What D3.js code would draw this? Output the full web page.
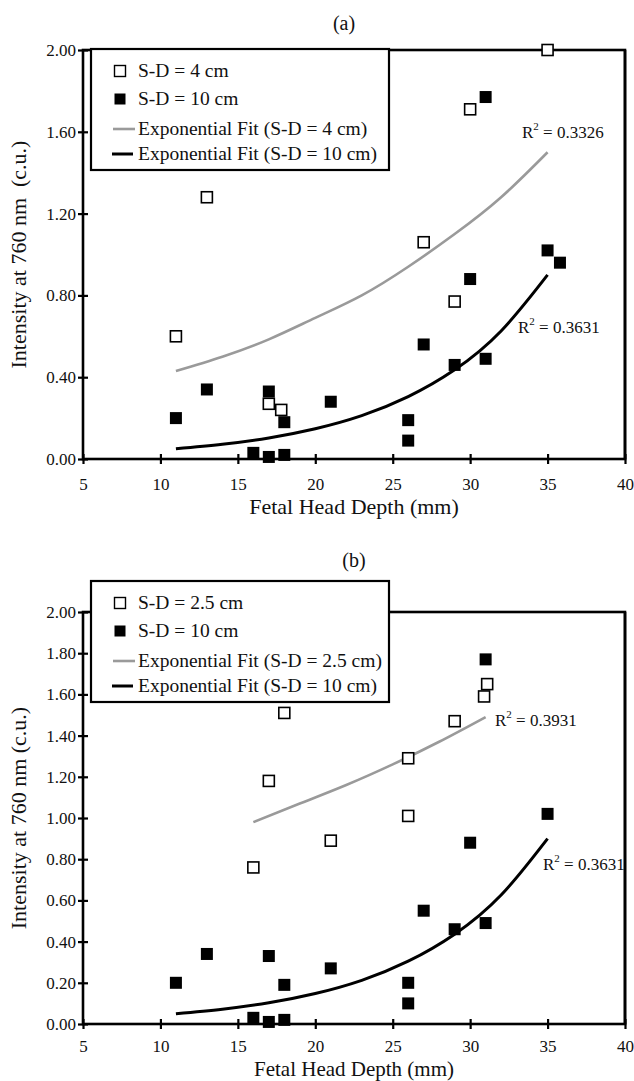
<!DOCTYPE html>
<html>
<head>
<meta charset="utf-8">
<script src="https://cdn.jsdelivr.net/npm/d3@7"></script>
<style>
  body { margin: 0; background: #fff; }
  svg text { font-family: "Liberation Serif", "Times New Roman", serif; fill: #111; }
</style>
</head>
<body>
<svg id="chart" width="634" height="1081" font-family="Liberation Serif, serif"></svg>
<script>
// tick values
const depthTicks = [5, 10, 15, 20, 25, 30, 35, 40]
const intensityTicksA = [0, 0.4, 0.8, 1.2, 1.6, 2.0]
const intensityTicksB = [0, 0.2, 0.4, 0.6, 0.8, 1.0, 1.2, 1.4, 1.6, 1.8, 2.0]

// panel (a): source-detector 4 cm vs 10 cm
const sd4cm = [
  [11, 0.60], [13, 1.28], [17, 0.27], [17.8, 0.24], [27, 1.06], [29, 0.77], [30, 1.71], [35, 2.00]
]
const sd10cmA = [
  [11, 0.20], [13, 0.34], [16, 0.03], [17, 0.33], [17, 0.01], [18, 0.18], [18, 0.02], [21, 0.28],
  [26, 0.19], [26, 0.09], [27, 0.56], [29, 0.46], [30, 0.88], [31, 0.49], [31, 1.77], [35, 1.02],
  [35.8, 0.96]
]
// panel (b): source-detector 2.5 cm vs 10 cm
const sd25cm = [
  [16, 0.76], [17, 1.18], [18, 1.51], [21, 0.89], [26, 1.29], [26, 1.01], [29, 1.47], [30.9, 1.59],
  [31.1, 1.65]
]
const sd10cmB = [
  [11, 0.20], [13, 0.34], [16, 0.03], [17, 0.33], [17, 0.01], [18, 0.19], [18, 0.02], [21, 0.27],
  [26, 0.20], [26, 0.10], [27, 0.55], [29, 0.46], [30, 0.88], [31, 0.49], [31, 1.77], [35, 1.02]
]

// fitted curves
const fit4cm = [
  [11, 0.43], [14, 0.50], [17, 0.585], [20, 0.69], [23, 0.80], [26, 0.94], [29, 1.10], [32, 1.28], [35, 1.50]
]
const fit10cm = [
  [11, 0.05], [14, 0.072], [17, 0.103], [20, 0.148], [23, 0.212], [26, 0.305], [29, 0.436], [32, 0.626], [35, 0.90]
]
const fit25cm = [[16, 0.98], [19, 1.07], [22, 1.16], [25, 1.26], [28, 1.37], [31, 1.49]]

const legendA = ['S-D = 4 cm', 'S-D = 10 cm', 'Exponential Fit (S-D = 4 cm)', 'Exponential Fit (S-D = 10 cm)']
const legendB = ['S-D = 2.5 cm', 'S-D = 10 cm', 'Exponential Fit (S-D = 2.5 cm)', 'Exponential Fit (S-D = 10 cm)']
const rSquaredA = ['0.3326', '0.3631']
const rSquaredB = ['0.3931', '0.3631']

const svg = d3.select('#chart')
const plotLeft = 83
const plotRight = 625
const markerSize = 11
const serif = '"Liberation Serif", "Times New Roman", serif'

const xScale = d3.scaleLinear().domain([5, 40]).range([plotLeft, plotRight])

const panels = [
  {
    title: '(a)', titleX: 344, titleY: 30, top: 50, bottom: 459,
    xTickPad: 14, xLabelY: 514, xLabelSize: 22,
    yTicks: intensityTicksA, open: sd4cm, filled: sd10cmA, openFit: fit4cm,
    legend: legendA, legendTop: 49, rSquared: rSquaredA,
    rPos: [[522, 138], [518, 333]], yLabel: 'Intensity at 760 nm\u00a0\u00a0(c.u.)'
  },
  {
    title: '(b)', titleX: 354, titleY: 567, top: 612, bottom: 1024,
    xTickPad: 11, xLabelY: 1076, xLabelSize: 21,
    yTicks: intensityTicksB, open: sd25cm, filled: sd10cmB, openFit: fit25cm,
    legend: legendB, legendTop: 581, rSquared: rSquaredB,
    rPos: [[495, 726], [543, 870]], yLabel: 'Intensity at 760 nm (c.u.)'
  }
]

const drawPanel = p => {
  const yScale = d3.scaleLinear().domain([0, 2]).range([p.bottom, p.top])
  const g = svg.append('g')

  g.append('text')
    .attr('x', p.titleX)
    .attr('y', p.titleY)
    .attr('text-anchor', 'middle')
    .attr('font-size', 20)
    .text(p.title)

  // frame
  g.append('rect')
    .attr('x', plotLeft)
    .attr('y', p.top)
    .attr('width', plotRight - plotLeft)
    .attr('height', p.bottom - p.top)
    .attr('fill', 'none')
    .attr('stroke', '#000')
    .attr('stroke-width', 2.6)

  const xAxis = g
    .append('g')
    .attr('transform', `translate(0,${p.bottom})`)
    .call(d3.axisBottom(xScale).tickValues(depthTicks).tickSize(5).tickPadding(p.xTickPad))
  xAxis.attr('font-family', serif)
  xAxis.select('.domain').remove()
  xAxis.selectAll('line').attr('y1', -5).attr('stroke-width', 2.2).attr('stroke', '#000')
  xAxis.selectAll('text').attr('font-size', 17)

  const yAxis = g
    .append('g')
    .attr('transform', `translate(${plotLeft},0)`)
    .call(d3.axisLeft(yScale).tickValues(p.yTicks).tickFormat(d3.format('.2f')).tickSize(5).tickPadding(2))
  yAxis.attr('font-family', serif)
  yAxis.select('.domain').remove()
  yAxis.selectAll('line').attr('x1', 5).attr('stroke-width', 2.2).attr('stroke', '#000')
  yAxis.selectAll('text').attr('font-size', 17)

  g.append('text')
    .attr('transform', `translate(26,${(p.top + p.bottom) / 2}) rotate(-90)`)
    .attr('text-anchor', 'middle')
    .attr('font-size', 22)
    .style('white-space', 'pre')
    .text(p.yLabel)

  g.append('text')
    .attr('x', (plotLeft + plotRight) / 2)
    .attr('y', p.xLabelY)
    .attr('text-anchor', 'middle')
    .attr('font-size', p.xLabelSize)
    .text('Fetal Head Depth (mm)')

  const line = d3
    .line()
    .x(d => xScale(d[0]))
    .y(d => yScale(d[1]))
    .curve(d3.curveNatural)

  g.append('path')
    .attr('d', line(p.openFit))
    .attr('fill', 'none')
    .attr('stroke', '#9a9a9a')
    .attr('stroke-width', 2.6)

  g.append('path')
    .attr('d', line(fit10cm))
    .attr('fill', 'none')
    .attr('stroke', '#000')
    .attr('stroke-width', 3)

  g.selectAll('rect.filled')
    .data(p.filled)
    .join('rect')
    .attr('class', 'filled')
    .attr('x', d => xScale(d[0]) - markerSize / 2 - 0.5)
    .attr('y', d => yScale(d[1]) - markerSize / 2 - 0.5)
    .attr('width', markerSize + 1)
    .attr('height', markerSize + 1)
    .attr('fill', '#000')

  g.selectAll('rect.open')
    .data(p.open)
    .join('rect')
    .attr('class', 'open')
    .attr('x', d => xScale(d[0]) - markerSize / 2)
    .attr('y', d => yScale(d[1]) - markerSize / 2)
    .attr('width', markerSize)
    .attr('height', markerSize)
    .attr('fill', '#fff')
    .attr('stroke', '#000')
    .attr('stroke-width', 1.6)

  // R squared labels
  p.rSquared.forEach((value, i) => {
    const t = g
      .append('text')
      .attr('x', p.rPos[i][0])
      .attr('y', p.rPos[i][1])
      .attr('font-size', 17)
    t.append('tspan').text('R')
    t.append('tspan').attr('dy', -8).attr('font-size', 11).text('2')
    t.append('tspan').attr('dy', 8).text(` = ${value}`)
  })

  // right edge of the frame sits over the labels
  g.append('line')
    .attr('x1', plotRight)
    .attr('x2', plotRight)
    .attr('y1', p.top)
    .attr('y2', p.bottom)
    .attr('stroke', '#000')
    .attr('stroke-width', 2.6)

  // legend
  const legend = g.append('g').attr('transform', `translate(91,${p.legendTop})`)
  legend
    .append('rect')
    .attr('width', 298)
    .attr('height', 121)
    .attr('fill', '#fff')
    .attr('stroke', '#000')
    .attr('stroke-width', 2.2)

  const rowY = [22, 50, 80, 105]
  legend
    .selectAll('text')
    .data(p.legend)
    .join('text')
    .attr('x', 47)
    .attr('y', (d, i) => rowY[i] + 6)
    .attr('font-size', 19.5)
    .text(d => d)

  legend
    .append('rect')
    .attr('x', 29 - markerSize / 2)
    .attr('y', rowY[0] - markerSize / 2)
    .attr('width', markerSize)
    .attr('height', markerSize)
    .attr('fill', '#fff')
    .attr('stroke', '#000')
    .attr('stroke-width', 1.4)
  legend
    .append('rect')
    .attr('x', 29 - markerSize / 2)
    .attr('y', rowY[1] - markerSize / 2)
    .attr('width', markerSize)
    .attr('height', markerSize)
    .attr('fill', '#000')
  legend
    .append('line')
    .attr('x1', 22)
    .attr('x2', 44)
    .attr('y1', rowY[2])
    .attr('y2', rowY[2])
    .attr('stroke', '#9a9a9a')
    .attr('stroke-width', 2.6)
  legend
    .append('line')
    .attr('x1', 21)
    .attr('x2', 42)
    .attr('y1', rowY[3])
    .attr('y2', rowY[3])
    .attr('stroke', '#000')
    .attr('stroke-width', 3)
}

panels.forEach(drawPanel)
</script>
</body>
</html>
